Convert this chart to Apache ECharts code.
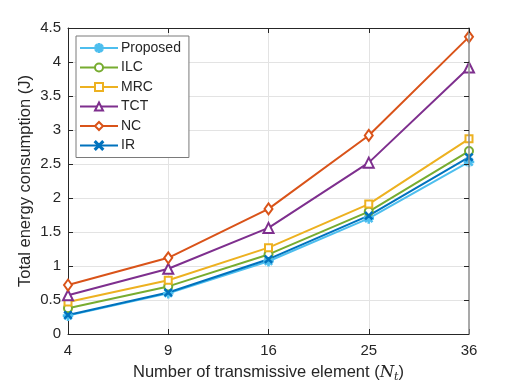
<!DOCTYPE html>
<html>
<head>
<meta charset="utf-8">
<script src="https://cdn.jsdelivr.net/npm/echarts@6/dist/echarts.min.js"></script>
<style>
  html, body { margin: 0; padding: 0; background: #fff; }
  #chart { width: 518px; height: 389px; }
</style>
</head>
<body>
<div id="chart"></div>
<script>
// 横轴类别 (N_t)
const categories = ['4', '9', '16', '25', '36'];

// 各方案的总能耗 (J)
const proposed = [0.27, 0.60, 1.07, 1.70, 2.53];
const ilc = [0.38, 0.70, 1.17, 1.80, 2.69];
const mrc = [0.47, 0.79, 1.27, 1.91, 2.87];
const tct = [0.57, 0.96, 1.56, 2.52, 3.92];
const nc = [0.72, 1.12, 1.84, 2.92, 4.37];
const ir = [0.28, 0.61, 1.10, 1.74, 2.60];

const FONT = '"Liberation Sans", Arial, sans-serif';
const TXT = '#262626';

// MATLAB 风格的 * 和 x 标记
const starPath = 'path://M-0.12,-1L0.12,-1L0.12,1L-0.12,1Z M-1,-0.12L1,-0.12L1,0.12L-1,0.12Z ' +
  'M-0.79,-0.62L-0.62,-0.79L0.79,0.62L0.62,0.79Z M0.62,-0.79L0.79,-0.62L-0.62,0.79L-0.79,0.62Z';
const crossPath = 'path://M-1,-0.8L-0.8,-1L0,-0.2L0.8,-1L1,-0.8L0.2,0L1,0.8L0.8,1L0,0.2L-0.8,1L-1,0.8L-0.2,0Z';

function mkSeries(name, data, color, symbol, size) {
  return {
    name: name,
    type: 'line',
    data: data,
    symbol: symbol,
    symbolSize: size,
    showAllSymbol: true,
    lineStyle: { color: color, width: 2 },
    itemStyle: { color: color, borderColor: color, borderWidth: 1.5 }
  };
}

const chart = echarts.init(document.getElementById('chart'));

const tickIn = { show: true, inside: true, length: 5, lineStyle: { color: TXT } };
const gridLine = { show: true, showMaxLine: false, lineStyle: { color: '#e3e3e3' } };

chart.setOption({
  animation: false,
  grid: { left: 68, right: 49, top: 28, bottom: 55 },
  legend: {
    orient: 'vertical',
    left: 76,
    top: 36,
    itemWidth: 38,
    itemHeight: 10,
    itemGap: 5.5,
    padding: [5, 8, 5, 3],
    borderColor: '#7a7a7a',
    borderWidth: 1,
    backgroundColor: '#fff',
    textStyle: { fontFamily: FONT, fontSize: 14, color: TXT, padding: [0, 0, 0, -2] },
    data: ['Proposed', 'ILC', 'MRC', 'TCT', 'NC', 'IR']
  },
  xAxis: [{
    type: 'category',
    data: categories,
    boundaryGap: false,
    axisLine: { lineStyle: { color: TXT } },
    axisTick: tickIn,
    axisLabel: { fontFamily: FONT, fontSize: 15, color: TXT, margin: 9 },
    splitLine: gridLine,
    name: 'Number of transmissive element ({i|N}{s|t})',
    nameLocation: 'middle',
    nameGap: 28,
    nameMoveOverlap: false,
    nameTextStyle: {
      fontFamily: FONT, fontSize: 16.5, color: TXT,
      rich: {
        i: { fontFamily: '"DejaVu Serif", serif', fontStyle: 'italic', fontSize: 16.5, color: TXT },
        s: { fontFamily: '"DejaVu Serif", serif', fontStyle: 'italic', fontSize: 11, color: TXT, padding: [10, 0, 0, 0] }
      }
    }
  }, {
    type: 'category',
    gridIndex: 0,
    data: categories,
    boundaryGap: false,
    position: 'top',
    z: 5,
    axisLine: { show: true, onZero: false, lineStyle: { color: TXT, width: 1 } },
    axisTick: tickIn,
    axisLabel: { show: false }
  }],
  yAxis: [{
    type: 'value',
    min: 0,
    max: 4.5,
    interval: 0.5,
    axisLine: { show: true, lineStyle: { color: TXT } },
    axisTick: tickIn,
    axisLabel: { fontFamily: FONT, fontSize: 15, color: TXT, margin: 7 },
    splitLine: gridLine,
    name: 'Total energy consumption (J)',
    nameLocation: 'middle',
    nameGap: 34,
    nameMoveOverlap: false,
    nameTextStyle: { fontFamily: FONT, fontSize: 16.5, color: TXT }
  }, {
    type: 'value',
    min: 0,
    max: 4.5,
    interval: 0.5,
    position: 'right',
    z: 5,
    axisLine: { show: true, onZero: false, lineStyle: { color: '#8c8c8c', width: 1.5 } },
    axisTick: tickIn,
    axisLabel: { show: false },
    splitLine: { show: false }
  }],
  series: [
    mkSeries('Proposed', proposed, '#4DBEEE', starPath, 9),
    mkSeries('ILC', ilc, '#77AC30', 'emptyCircle', 8),
    mkSeries('MRC', mrc, '#EDB120', 'emptyRect', 7),
    mkSeries('TCT', tct, '#7E2F8E', 'emptyTriangle', 10),
    mkSeries('NC', nc, '#D95319', 'emptyDiamond', [8, 11]),
    mkSeries('IR', ir, '#0072BD', crossPath, 7)
  ]
});
</script>
</body>
</html>
